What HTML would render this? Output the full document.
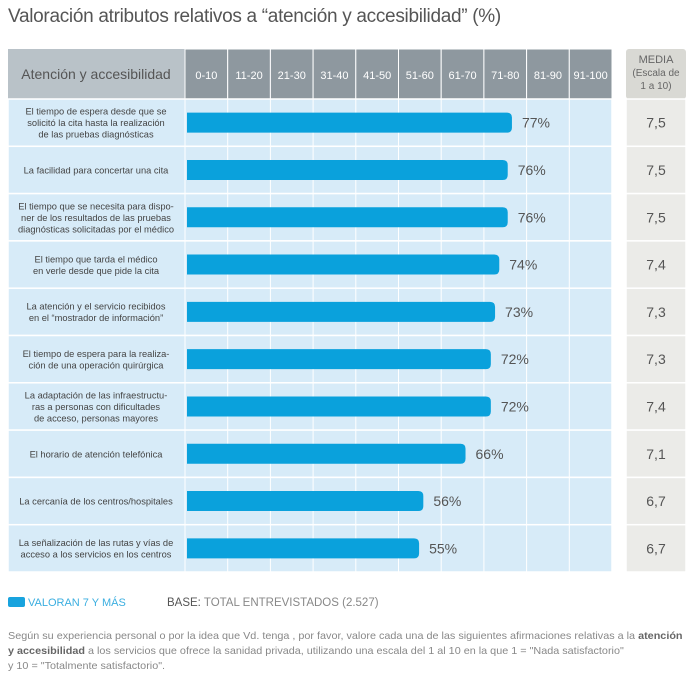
<!DOCTYPE html>
<html><head><meta charset="utf-8"><style>
body{margin:0;width:689px;height:683px;background:#fff;font-family:"Liberation Sans",sans-serif;position:relative;overflow:hidden}
.a{position:absolute}
</style></head><body>
<div class="a" style="left:8px;top:6px;font-size:19px;color:#555;letter-spacing:-0.3px;white-space:nowrap">Valoración atributos relativos a “atención y accesibilidad” (%)</div>
<svg class="a" id="chart" style="left:0;top:0" width="689" height="600"></svg>
<div class="a" style="left:8px;top:597px;font-size:11px;color:#3aaee0;white-space:nowrap"><span style="display:inline-block;width:17px;height:10px;background:#18a3de;border-radius:2px;vertical-align:-1px;margin-right:3px"></span>VALORAN 7 Y MÁS</div>
<div class="a" style="left:167px;top:597px;font-size:11.5px;color:#888;white-space:nowrap"><span style="color:#555">BASE:</span> TOTAL ENTREVISTADOS (2.527)</div>
<div class="a" style="left:8px;top:629px;width:760px;font-size:10.5px;line-height:15px;color:#888;transform:scaleX(1.03);transform-origin:left top;white-space:nowrap">Según su experiencia personal o por la idea que Vd. tenga , por favor, valore cada una de las siguientes afirmaciones relativas a la <b style="color:#666">atención</b><br><b style="color:#666">y accesibilidad</b> a los servicios que ofrece la sanidad privada, utilizando una escala del 1 al 10 en la que 1 = "Nada satisfactorio"<br>y 10 = "Totalmente satisfactorio".</div>
<script>
const labels=[["El tiempo de espera desde que se","solicitó la cita hasta la realización","de las pruebas diagnósticas"],["La facilidad para concertar una cita"],["El tiempo que se necesita para dispo-","ner de los resultados de las pruebas","diagnósticas solicitadas por el médico"],["El tiempo que tarda el médico","en verle desde que pide la cita"],["La atención y el servicio recibidos","en el “mostrador de información”"],["El tiempo de espera para la realiza-","ción de una operación quirúrgica"],["La adaptación de las infraestructu-","ras a personas con dificultades","de acceso, personas mayores"],["El horario de atención telefónica"],["La cercanía de los centros/hospitales"],["La señalización de las rutas y vías de","acceso a los servicios en los centros"]];
const values=[77,76,76,74,73,72,72,66,56,55];
const medias=["7,5","7,5","7,5","7,4","7,3","7,3","7,4","7,1","6,7","6,7"];
const ticks=["0-10","11-20","21-30","31-40","41-50","51-60","61-70","71-80","81-90","91-100"];
const svg=document.getElementById('chart');const NS='http://www.w3.org/2000/svg';
function mk(t,at,parent){const e=document.createElementNS(NS,t);for(const k in at)e.setAttribute(k,at[k]);(parent||svg).appendChild(e);return e;}
const gx0=185,colW=42.7,T0=49,hdrH=50,rowH=47.3,n=values.length;
const xs=v=>187+v*4.22;
const ys=i=>T0+hdrH+i*rowH;
let e;
e=mk('rect',{x:8,y:T0,width:177,height:hdrH,fill:'#b9c2c8'});


e=mk('text',{x:96,y:T0+30,'text-anchor':'middle','font-size':14,fill:'#555'});e.textContent='Atención y accesibilidad';


ticks.forEach((t,i)=>{const r=mk('rect',{x:gx0+i*colW,y:T0,width:colW,height:hdrH,fill:'#8e989f',stroke:'#fff','stroke-width':1});


const tx=mk('text',{x:gx0+i*colW+colW/2,y:T0+30,'text-anchor':'middle','font-size':11,fill:'#fff'});tx.textContent=t;

});
e=mk('rect',{x:626,y:T0,width:60,height:hdrH,fill:'#d9d9d4',rx:3});


["MEDIA","(Escala de","1 a 10)"].forEach((s,k)=>{const t=mk('text',{x:656,y:T0+14+k*13,'text-anchor':'middle','font-size':k?10:11,fill:'#666'});t.textContent=s;

});
for(let i=0;i<n;i++){
 const r=mk('rect',{x:8,y:ys(i),width:604,height:rowH,fill:'#d7ebf8',stroke:'#fff','stroke-width':1.5});
 
 
 const m=mk('rect',{x:626,y:ys(i),width:60,height:rowH,fill:'#ebebe8',stroke:'#fff','stroke-width':1.5});
 
 
}
for(let k=0;k<=10;k++){const l=mk('line',{x1:gx0+k*colW,x2:gx0+k*colW,y1:T0+hdrH,y2:ys(n),stroke:'#fff','stroke-width':1});

}
for(let i=0;i<n;i++){
 const cy=ys(i)+rowH/2;const L=labels[i];
 L.forEach((s,k)=>{const t=mk('text',{x:96,y:cy+3.5+(k-(L.length-1)/2)*11.5,'text-anchor':'middle','font-size':9.3,fill:'#444'});t.textContent=s;
 
 });
 const x1=xs(values[i]),h=20,r=5;
 const b=mk('path',{d:`M187 ${cy-h/2} H${x1-r} Q${x1} ${cy-h/2} ${x1} ${cy-h/2+r} V${cy+h/2-r} Q${x1} ${cy+h/2} ${x1-r} ${cy+h/2} H187 Z`,fill:'#0aa1dc'});
 
 
 const v=mk('text',{x:x1+10,y:cy+5,'font-size':14,fill:'#555'});v.textContent=values[i]+'%';
 
 
 const mt=mk('text',{x:656,y:cy+5,'text-anchor':'middle','font-size':14,fill:'#555'});mt.textContent=medias[i];
 
 
}
</script>
</body></html>
